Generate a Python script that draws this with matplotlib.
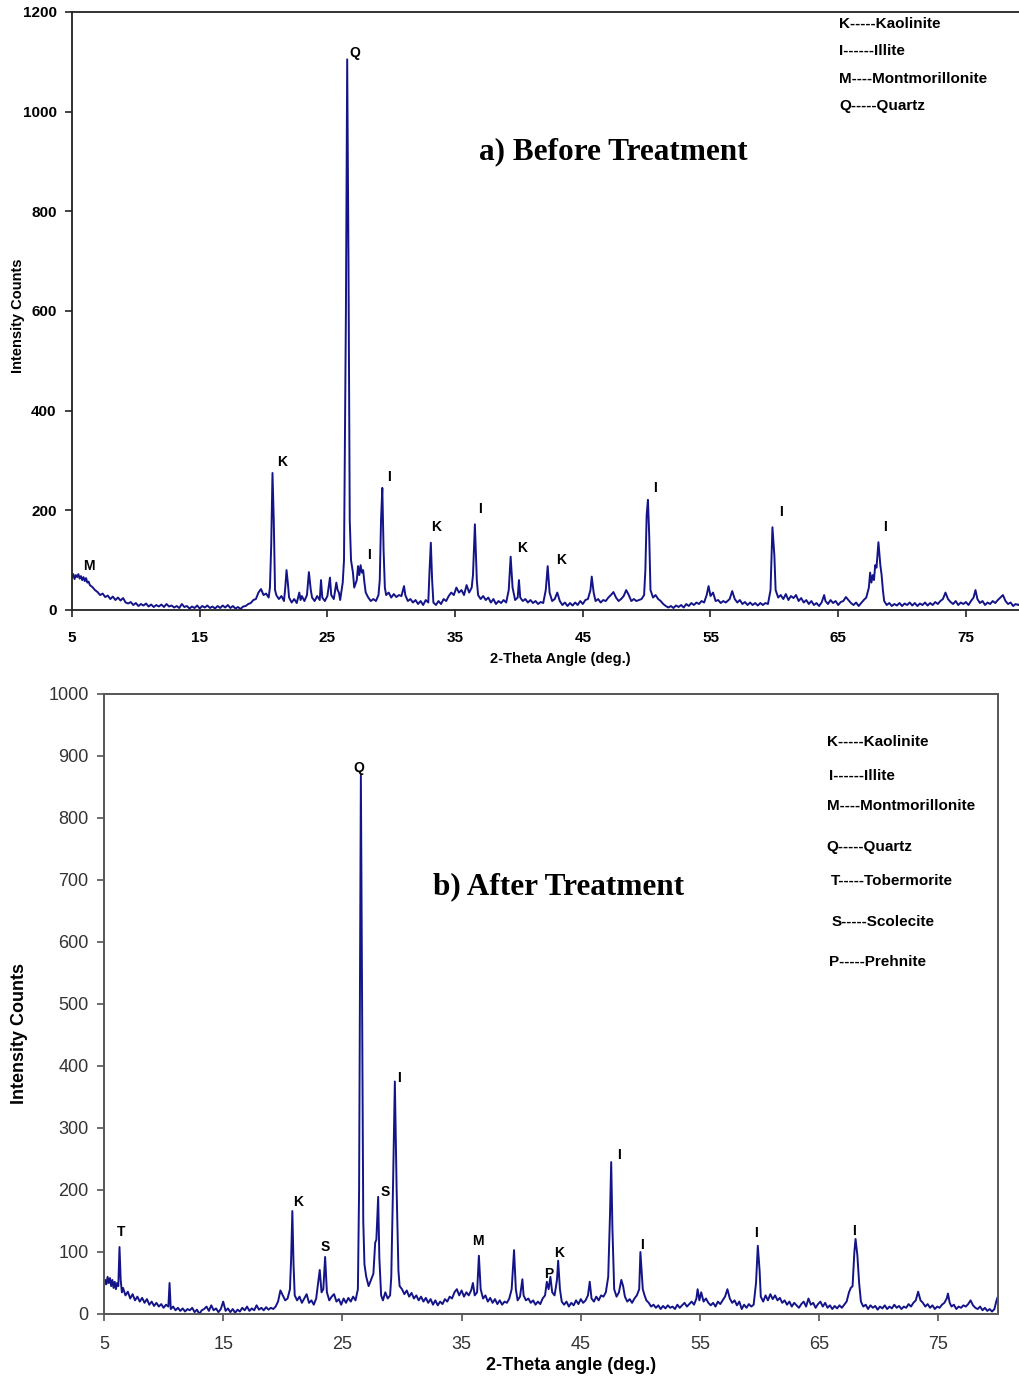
import matplotlib
matplotlib.use("Agg")
import matplotlib.pyplot as plt

# ---------------- data ----------------
before_pattern = [
    (5.0, 65), (5.1, 72), (5.2, 62), (5.3, 70), (5.4, 66), (5.5, 72), (5.6, 63), (5.7, 68), (5.8, 60), (5.9, 66),
    (6.0, 58), (6.1, 64), (6.2, 55), (6.3, 57), (6.4, 50), (6.6, 46), (6.8, 40), (7.0, 36), (7.2, 30), (7.4, 33),
    (7.6, 26), (7.8, 29), (8.0, 22), (8.2, 27), (8.4, 20), (8.6, 25), (8.8, 19), (9.0, 24), (9.2, 15), (9.4, 13),
    (9.6, 16), (9.8, 10), (10.0, 14), (10.2, 8), (10.4, 12), (10.6, 9), (10.8, 13), (11.0, 7), (11.2, 11), (11.4, 6),
    (11.6, 10), (11.8, 7), (12.0, 11), (12.2, 6), (12.4, 12), (12.6, 7), (12.8, 9), (13.0, 5), (13.2, 8), (13.4, 4),
    (13.6, 12), (13.8, 6), (14.0, 8), (14.2, 3), (14.4, 7), (14.6, 4), (14.8, 9), (15.0, 3), (15.2, 8), (15.4, 5),
    (15.6, 9), (15.8, 4), (16.0, 7), (16.2, 3), (16.4, 8), (16.6, 4), (16.8, 9), (17.0, 5), (17.2, 10), (17.4, 4),
    (17.6, 8), (17.8, 3), (18.0, 6), (18.2, 2), (18.4, 7), (18.6, 8), (18.8, 12), (19.0, 14), (19.2, 20), (19.4, 22),
    (19.6, 35), (19.8, 42), (20.0, 30), (20.2, 33), (20.4, 25), (20.5, 45), (20.6, 130), (20.7, 275), (20.8, 180), (20.9, 40),
    (21.0, 30), (21.2, 22), (21.4, 28), (21.6, 18), (21.7, 45), (21.8, 80), (21.9, 55), (22.0, 25), (22.2, 15), (22.4, 22),
    (22.6, 14), (22.8, 35), (22.9, 20), (23.0, 28), (23.2, 18), (23.4, 30), (23.55, 76), (23.7, 40), (23.8, 25), (24.0, 18),
    (24.2, 28), (24.4, 20), (24.5, 60), (24.6, 25), (24.8, 18), (25.0, 28), (25.2, 65), (25.3, 30), (25.5, 22), (25.7, 55),
    (25.8, 40), (25.9, 35), (26.0, 20), (26.2, 55), (26.3, 100), (26.45, 600), (26.55, 1105), (26.65, 700), (26.75, 180), (26.85, 100),
    (27.0, 75), (27.1, 45), (27.3, 60), (27.4, 88), (27.5, 70), (27.6, 90), (27.7, 75), (27.8, 80), (27.9, 55), (28.0, 35),
    (28.2, 25), (28.4, 18), (28.6, 22), (28.8, 18), (29.0, 30), (29.1, 60), (29.2, 180), (29.3, 245), (29.4, 120), (29.5, 45),
    (29.6, 30), (29.8, 35), (30.0, 25), (30.2, 32), (30.4, 26), (30.6, 30), (30.8, 28), (31.0, 48), (31.1, 30), (31.3, 18),
    (31.5, 22), (31.7, 15), (31.9, 20), (32.1, 12), (32.3, 18), (32.5, 10), (32.7, 20), (32.9, 15), (33.0, 80), (33.1, 135),
    (33.2, 60), (33.3, 15), (33.5, 10), (33.7, 18), (33.9, 12), (34.1, 22), (34.3, 18), (34.5, 28), (34.7, 35), (34.9, 30),
    (35.1, 45), (35.3, 35), (35.5, 40), (35.7, 30), (35.9, 50), (36.1, 35), (36.3, 45), (36.4, 70), (36.55, 172), (36.7, 60),
    (36.8, 30), (37.0, 22), (37.2, 28), (37.4, 20), (37.6, 25), (37.8, 15), (38.0, 22), (38.2, 12), (38.4, 18), (38.6, 14),
    (38.8, 20), (39.0, 15), (39.2, 40), (39.35, 107), (39.5, 45), (39.7, 20), (39.9, 25), (40.0, 60), (40.1, 25), (40.3, 18),
    (40.5, 22), (40.7, 15), (40.9, 20), (41.1, 14), (41.3, 18), (41.5, 12), (41.7, 16), (41.9, 14), (42.1, 40), (42.25, 88),
    (42.4, 35), (42.6, 18), (42.8, 22), (43.0, 35), (43.2, 18), (43.4, 10), (43.6, 15), (43.8, 8), (44.0, 14), (44.2, 9),
    (44.4, 15), (44.6, 10), (44.8, 18), (45.0, 12), (45.2, 20), (45.4, 22), (45.6, 40), (45.7, 67), (45.85, 35), (46.0, 18),
    (46.2, 22), (46.4, 15), (46.6, 20), (46.8, 18), (47.0, 25), (47.2, 30), (47.4, 36), (47.6, 25), (47.8, 18), (48.0, 22),
    (48.2, 28), (48.4, 40), (48.6, 30), (48.8, 18), (49.0, 22), (49.2, 18), (49.4, 20), (49.6, 22), (49.8, 30), (49.9, 80),
    (50.0, 190), (50.1, 221), (50.2, 150), (50.3, 40), (50.5, 25), (50.7, 30), (50.9, 22), (51.1, 18), (51.3, 12), (51.5, 8),
    (51.7, 5), (51.9, 8), (52.1, 4), (52.3, 9), (52.5, 6), (52.7, 10), (52.9, 5), (53.1, 12), (53.3, 8), (53.5, 14),
    (53.7, 10), (53.9, 15), (54.1, 12), (54.3, 18), (54.5, 15), (54.7, 30), (54.85, 48), (55.0, 28), (55.2, 35), (55.4, 18),
    (55.6, 20), (55.8, 14), (56.0, 18), (56.2, 15), (56.5, 22), (56.7, 38), (56.9, 22), (57.1, 15), (57.3, 20), (57.5, 12),
    (57.7, 16), (57.9, 10), (58.1, 15), (58.3, 10), (58.5, 14), (58.7, 9), (58.9, 14), (59.1, 10), (59.3, 14), (59.5, 12),
    (59.7, 40), (59.85, 166), (60.0, 110), (60.1, 40), (60.3, 25), (60.5, 30), (60.7, 22), (60.9, 32), (61.1, 20), (61.3, 28),
    (61.5, 24), (61.7, 30), (61.9, 18), (62.1, 24), (62.3, 15), (62.5, 20), (62.7, 12), (62.9, 18), (63.1, 10), (63.3, 14),
    (63.5, 8), (63.7, 15), (63.9, 30), (64.0, 18), (64.2, 12), (64.4, 20), (64.6, 14), (64.8, 18), (65.0, 10), (65.2, 16),
    (65.4, 18), (65.6, 26), (65.8, 20), (66.0, 14), (66.2, 10), (66.4, 15), (66.6, 8), (66.8, 14), (67.0, 20), (67.2, 25),
    (67.4, 45), (67.5, 75), (67.6, 55), (67.7, 70), (67.8, 60), (67.9, 90), (68.0, 85), (68.15, 136), (68.3, 90), (68.4, 70),
    (68.5, 40), (68.6, 18), (68.8, 10), (69.0, 14), (69.2, 8), (69.4, 12), (69.6, 9), (69.8, 14), (70.0, 8), (70.2, 13),
    (70.4, 10), (70.6, 15), (70.8, 9), (71.0, 14), (71.2, 8), (71.4, 13), (71.6, 10), (71.8, 15), (72.0, 9), (72.2, 14),
    (72.4, 10), (72.6, 16), (72.8, 12), (73.0, 18), (73.2, 22), (73.4, 35), (73.6, 22), (73.8, 16), (74.0, 12), (74.2, 18),
    (74.4, 10), (74.6, 15), (74.8, 12), (75.0, 16), (75.2, 10), (75.4, 18), (75.6, 25), (75.75, 40), (75.9, 22), (76.1, 14),
    (76.3, 18), (76.5, 10), (76.7, 15), (76.9, 12), (77.1, 18), (77.3, 14), (77.5, 20), (77.7, 25), (77.9, 30), (78.1, 18),
    (78.3, 12), (78.5, 15), (78.7, 8), (78.9, 12), (79.1, 10), (79.3, 14), (79.5, 9),
]

after_pattern = [
    (5.0, 45), (5.1, 55), (5.2, 48), (5.3, 60), (5.4, 50), (5.5, 58), (5.6, 45), (5.7, 55), (5.8, 42), (5.9, 52),
    (6.0, 40), (6.1, 50), (6.2, 45), (6.3, 108), (6.4, 55), (6.5, 35), (6.6, 42), (6.8, 30), (7.0, 36), (7.2, 25),
    (7.4, 32), (7.6, 22), (7.8, 28), (8.0, 20), (8.2, 26), (8.4, 18), (8.6, 24), (8.8, 15), (9.0, 20), (9.2, 13),
    (9.4, 18), (9.6, 12), (9.8, 16), (10.0, 10), (10.2, 15), (10.4, 12), (10.5, 50), (10.6, 8), (10.8, 12), (11.0, 6),
    (11.2, 10), (11.4, 5), (11.6, 9), (11.8, 4), (12.0, 8), (12.2, 6), (12.4, 10), (12.6, 3), (12.8, 7), (13.0, 0),
    (13.2, 6), (13.4, 8), (13.6, 12), (13.8, 5), (14.0, 14), (14.2, 6), (14.4, 9), (14.6, 3), (14.8, 8), (15.0, 20),
    (15.2, 5), (15.4, 9), (15.6, 3), (15.8, 8), (16.0, 2), (16.2, 7), (16.4, 4), (16.6, 10), (16.8, 6), (17.0, 12),
    (17.2, 5), (17.4, 9), (17.6, 6), (17.8, 14), (18.0, 7), (18.2, 10), (18.4, 6), (18.6, 11), (18.8, 7), (19.0, 10),
    (19.2, 8), (19.4, 12), (19.6, 20), (19.8, 38), (20.0, 30), (20.2, 22), (20.4, 25), (20.6, 40), (20.7, 90), (20.8, 166),
    (20.9, 80), (21.0, 30), (21.2, 22), (21.4, 28), (21.6, 18), (21.8, 25), (22.0, 32), (22.2, 18), (22.4, 22), (22.6, 15),
    (22.8, 25), (23.0, 55), (23.1, 71), (23.25, 35), (23.4, 40), (23.55, 92), (23.7, 35), (23.9, 22), (24.1, 28), (24.3, 32),
    (24.5, 20), (24.7, 24), (24.9, 15), (25.1, 25), (25.3, 18), (25.5, 26), (25.7, 20), (25.9, 28), (26.1, 22), (26.3, 40),
    (26.4, 200), (26.55, 869), (26.65, 500), (26.75, 150), (26.85, 80), (27.0, 60), (27.2, 45), (27.4, 55), (27.6, 65), (27.75, 115),
    (27.85, 120), (28.0, 189), (28.1, 90), (28.25, 30), (28.4, 22), (28.6, 35), (28.8, 25), (29.0, 30), (29.1, 60), (29.25, 210),
    (29.4, 375), (29.55, 200), (29.7, 70), (29.8, 45), (30.0, 40), (30.2, 32), (30.4, 38), (30.6, 28), (30.8, 34), (31.0, 25),
    (31.2, 30), (31.4, 22), (31.6, 28), (31.8, 20), (32.0, 26), (32.2, 18), (32.4, 24), (32.6, 15), (32.8, 22), (33.0, 14),
    (33.2, 20), (33.4, 16), (33.6, 24), (33.8, 20), (34.0, 28), (34.2, 25), (34.4, 35), (34.6, 40), (34.8, 30), (35.0, 38),
    (35.2, 28), (35.4, 35), (35.6, 30), (35.8, 38), (35.95, 50), (36.1, 30), (36.3, 35), (36.45, 94), (36.6, 40), (36.8, 25),
    (37.0, 30), (37.2, 20), (37.4, 26), (37.6, 18), (37.8, 24), (38.0, 16), (38.2, 22), (38.4, 15), (38.6, 20), (38.8, 18),
    (39.0, 25), (39.2, 40), (39.4, 103), (39.55, 40), (39.7, 22), (39.9, 28), (40.1, 56), (40.2, 30), (40.4, 22), (40.6, 25),
    (40.8, 18), (41.0, 22), (41.2, 15), (41.4, 20), (41.6, 16), (41.8, 25), (42.0, 30), (42.15, 52), (42.3, 40), (42.45, 60),
    (42.6, 35), (42.8, 30), (43.0, 55), (43.1, 86), (43.25, 40), (43.4, 20), (43.6, 15), (43.8, 20), (44.0, 12), (44.2, 18),
    (44.4, 14), (44.6, 22), (44.8, 16), (45.0, 24), (45.2, 18), (45.4, 22), (45.6, 30), (45.75, 52), (45.9, 25), (46.1, 20),
    (46.3, 28), (46.5, 22), (46.7, 30), (46.9, 28), (47.1, 35), (47.3, 60), (47.45, 160), (47.55, 245), (47.65, 140), (47.8, 40),
    (48.0, 28), (48.2, 35), (48.4, 55), (48.55, 45), (48.7, 28), (48.9, 20), (49.1, 24), (49.3, 18), (49.5, 25), (49.7, 30),
    (49.9, 40), (50.0, 100), (50.1, 70), (50.2, 40), (50.35, 30), (50.5, 22), (50.7, 18), (50.9, 12), (51.1, 15), (51.3, 10),
    (51.5, 14), (51.7, 8), (51.9, 13), (52.1, 9), (52.3, 14), (52.5, 10), (52.7, 12), (52.9, 8), (53.1, 15), (53.3, 10),
    (53.5, 14), (53.7, 18), (53.9, 12), (54.1, 16), (54.3, 20), (54.5, 15), (54.7, 25), (54.8, 40), (54.95, 22), (55.1, 35),
    (55.3, 20), (55.5, 25), (55.7, 18), (55.9, 14), (56.1, 18), (56.3, 12), (56.5, 20), (56.7, 16), (56.9, 22), (57.1, 28),
    (57.3, 40), (57.5, 25), (57.7, 18), (57.9, 22), (58.1, 14), (58.3, 20), (58.5, 8), (58.7, 15), (58.9, 10), (59.1, 16),
    (59.3, 12), (59.5, 15), (59.7, 50), (59.85, 110), (60.0, 70), (60.1, 28), (60.3, 20), (60.5, 30), (60.7, 22), (60.9, 32),
    (61.1, 24), (61.3, 30), (61.5, 22), (61.7, 26), (61.9, 18), (62.1, 22), (62.3, 15), (62.5, 20), (62.7, 12), (62.9, 18),
    (63.1, 14), (63.3, 10), (63.5, 16), (63.7, 20), (63.9, 12), (64.1, 25), (64.3, 15), (64.5, 18), (64.7, 10), (64.9, 16),
    (65.1, 20), (65.3, 12), (65.5, 18), (65.7, 10), (65.9, 14), (66.1, 8), (66.3, 13), (66.5, 9), (66.7, 14), (66.9, 10),
    (67.1, 15), (67.3, 20), (67.5, 35), (67.65, 42), (67.8, 45), (67.95, 100), (68.05, 121), (68.2, 95), (68.35, 50), (68.5, 20),
    (68.7, 12), (68.9, 15), (69.1, 8), (69.3, 14), (69.5, 10), (69.7, 13), (69.9, 7), (70.1, 12), (70.3, 9), (70.5, 14),
    (70.7, 8), (70.9, 12), (71.1, 9), (71.3, 15), (71.5, 10), (71.7, 13), (71.9, 8), (72.1, 12), (72.3, 10), (72.5, 16),
    (72.7, 12), (72.9, 18), (73.1, 22), (73.3, 36), (73.5, 22), (73.7, 18), (73.9, 12), (74.1, 16), (74.3, 10), (74.5, 14),
    (74.7, 8), (74.9, 12), (75.1, 10), (75.3, 15), (75.5, 18), (75.7, 25), (75.8, 33), (75.95, 18), (76.1, 12), (76.3, 15),
    (76.5, 8), (76.7, 12), (76.9, 10), (77.1, 14), (77.3, 12), (77.5, 16), (77.7, 22), (77.9, 14), (78.1, 10), (78.3, 8),
    (78.5, 12), (78.7, 6), (78.9, 10), (79.1, 5), (79.3, 8), (79.5, 4), (79.7, 8), (79.85, 20), (79.95, 26),
]

before_theta, before_counts = map(list, zip(*before_pattern))
after_theta, after_counts = map(list, zip(*after_pattern))

before_peak_labels = [("Q", 27.16, 1118), ("K", 21.44, 297), ("I", 29.82, 267), ("I", 28.26, 110),
                      ("K", 33.5, 167), ("I", 36.95, 203), ("K", 40.24, 124), ("K", 43.29, 100),
                      ("I", 50.65, 245), ("I", 60.52, 197), ("I", 68.66, 167), ("M", 6.33, 88)]
after_peak_labels = [("T", 6.43, 132), ("K", 21.28, 180), ("S", 23.55, 108), ("Q", 26.4, 880),
                     ("S", 28.59, 197), ("I", 29.76, 380), ("M", 36.39, 118), ("P", 42.35, 65),
                     ("K", 43.19, 98), ("I", 48.22, 256), ("I", 50.15, 111), ("I", 59.72, 131),
                     ("I", 67.9, 134)]

before_legend = ["K-----Kaolinite", "I------Illite", "M----Montmorillonite", "Q-----Quartz"]
after_legend = ["K-----Kaolinite", "I------Illite", "M----Montmorillonite", "Q-----Quartz",
                "T-----Tobermorite", "S-----Scolecite", "P-----Prehnite"]

x_ticks = [5, 15, 25, 35, 45, 55, 65, 75]
before_yticks = [0, 200, 400, 600, 800, 1000, 1200]
after_yticks = [0, 100, 200, 300, 400, 500, 600, 700, 800, 900, 1000]

# ---------------- drawing ----------------
W, H = 1020, 1378
fig = plt.figure(figsize=(W / 100, H / 100), dpi=100)
line_color = "#141489"
sans = "Liberation Sans"
serif = "Liberation Serif"

def px_axes(left, top, right, bottom):
    return [left / W, 1 - bottom / H, (right - left) / W, (bottom - top) / H]

def ftext(xpx, ypx, s, **kw):
    return fig.text(xpx / W, 1 - ypx / H, s, **kw)

# ---- top panel ----
ax1 = fig.add_axes(px_axes(72, 12, 72 + 75 * 12.77, 610))
ax1.plot(before_theta, before_counts, color=line_color, lw=1.4)
ax1.set_xlim(5, 80)
ax1.set_ylim(0, 1200)
ax1.set_xticks(x_ticks)
ax1.set_yticks(before_yticks)
for sp in ax1.spines.values():
    sp.set_color("#222222")
    sp.set_linewidth(1.3)
ax1.tick_params(axis="both", direction="out", length=5, width=1.2, color="#222222",
                labelsize=11)
ax1.tick_params(axis="x", pad=10)
ax1.tick_params(axis="y", pad=6)
for lab in ax1.get_xticklabels() + ax1.get_yticklabels():
    lab.set_fontfamily(sans)
    lab.set_fontweight("bold")
ftext(560, 659, "2-Theta Angle (deg.)", fontfamily=sans, fontweight="bold", fontsize=10.5,
      ha="center", va="center")
ftext(18, 316, "Intensity Counts", fontfamily=sans, fontweight="bold", fontsize=10.5,
      ha="center", va="center", rotation=90)
for t, x, y in before_peak_labels:
    ax1.text(x, y, t, fontfamily=sans, fontweight="bold", fontsize=10, ha="center", va="center")
ftext(613, 152, "a) Before Treatment", fontfamily=serif, fontweight="bold",
      fontsize=22.5, ha="center", va="center")
for s, ypx in zip(before_legend, [24, 51, 79, 106]):
    ftext(839, ypx, s, fontfamily=sans, fontweight="bold", fontsize=11, ha="left", va="center")

# ---- bottom panel ----
ax2 = fig.add_axes(px_axes(104, 694, 998, 1314))
ax2.plot(after_theta, after_counts, color=line_color, lw=1.4)
ax2.set_xlim(5, 80)
ax2.set_ylim(0, 1000)
ax2.set_xticks(x_ticks)
ax2.set_yticks(after_yticks)
for sp in ax2.spines.values():
    sp.set_color("#555555")
    sp.set_linewidth(1.4)
ax2.tick_params(axis="both", direction="out", length=5, width=1.2, color="#555555",
                labelsize=13, labelcolor="#333333")
ax2.tick_params(axis="x", pad=11)
ax2.tick_params(axis="y", pad=6)
for lab in ax2.get_xticklabels() + ax2.get_yticklabels():
    lab.set_fontfamily(sans)
ftext(571, 1366, "2-Theta angle (deg.)", fontfamily=sans, fontweight="bold", fontsize=13,
      ha="center", va="center")
ftext(20, 1033, "Intensity Counts", fontfamily=sans, fontweight="bold", fontsize=13,
      ha="center", va="center", rotation=90)
for t, x, y in after_peak_labels:
    ax2.text(x, y, t, fontfamily=sans, fontweight="bold", fontsize=10, ha="center", va="center")
ftext(559, 887, "b) After Treatment", fontfamily=serif, fontweight="bold",
      fontsize=22.5, ha="center", va="center")
for s, (xpx, ypx) in zip(after_legend, [(827, 742), (829, 776), (827, 806), (826, 847),
                                         (831, 881), (832, 922), (829, 962)]):
    ftext(xpx, ypx, s, fontfamily=sans, fontweight="bold", fontsize=11, ha="left", va="center")

fig.savefig("out.png", dpi=100)
